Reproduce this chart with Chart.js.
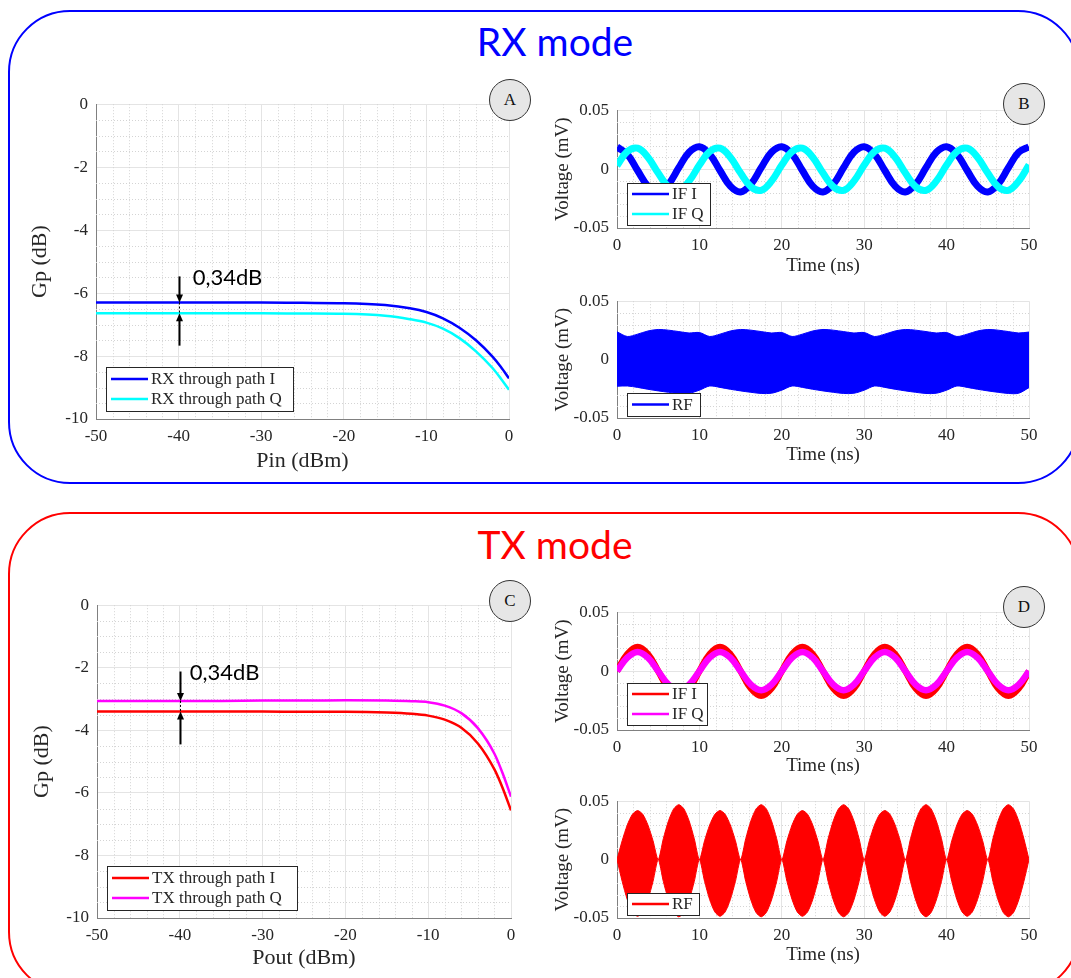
<!DOCTYPE html>
<html>
<head>
<meta charset="utf-8">
<script src="https://cdn.jsdelivr.net/npm/chart.js@4.4.1/dist/chart.umd.min.js"></script>
<style>
  html, body { margin: 0; padding: 0; background: #fff; width: 1071px; height: 978px; overflow: hidden; }
  .frame { position: absolute; box-sizing: border-box; border-radius: 62px; }
  #rxFrame { left: 8px; top: 10px; width: 1072px; height: 474px; border: 2.5px solid #0000ff; }
  #txFrame { left: 8px; top: 512px; width: 1072px; height: 482px; border: 2.5px solid #ff0000; }
  .mode { position: absolute; left: 555px; transform: translateX(-50%); font-family: Lato, sans-serif;
          font-size: 39px; line-height: 39px; white-space: nowrap; }
  canvas { position: absolute; }
  .tag { position: absolute; width: 40px; height: 40px; margin: -21px 0 0 -21px; border-radius: 50%;
         border: 1.5px solid #333; background: #e6e6e6; font-family: "Liberation Serif", serif;
         font-size: 17px; color: #111; display: flex; align-items: center; justify-content: center; z-index: 5; }
</style>
</head>
<body>
<div class="frame" id="rxFrame"></div>
<div class="frame" id="txFrame"></div>
<div class="mode" style="top:22px;color:#0000ff">RX mode</div>
<div class="mode" style="top:525px;color:#ff0000">TX mode</div>

<canvas id="chartA" width="530" height="394" style="left:16px;top:86px"></canvas>
<canvas id="chartB1" width="520" height="186" style="left:545px;top:92px"></canvas>
<canvas id="chartB2" width="520" height="185" style="left:545px;top:283px"></canvas>
<canvas id="chartC" width="532" height="392" style="left:16px;top:587px"></canvas>
<canvas id="chartD1" width="520" height="186" style="left:545px;top:594px"></canvas>
<canvas id="chartD2" width="520" height="185" style="left:545px;top:783px"></canvas>

<div class="tag" style="left:510px;top:100px">A</div>
<div class="tag" style="left:1024px;top:104px">B</div>
<div class="tag" style="left:510px;top:601px">C</div>
<div class="tag" style="left:1024px;top:607px">D</div>

<script>
// ---------- data ----------
const powerSweep = [-50, -45, -40, -35, -30, -25, -20, -15, -12, -10, -8, -6, -4, -2, -1, 0];
const rxGainI = [-6.30, -6.30, -6.30, -6.30, -6.30, -6.31, -6.32, -6.38, -6.48, -6.60, -6.80, -7.10, -7.50, -8.02, -8.34, -8.71];
const rxGainQ = [-6.64, -6.64, -6.64, -6.64, -6.64, -6.65, -6.66, -6.72, -6.83, -6.94, -7.13, -7.43, -7.85, -8.38, -8.71, -9.07];
const txGainI = [-3.40, -3.40, -3.40, -3.40, -3.40, -3.41, -3.41, -3.43, -3.47, -3.53, -3.66, -3.92, -4.42, -5.25, -5.85, -6.56];
const txGainQ = [-3.06, -3.06, -3.06, -3.06, -3.05, -3.05, -3.04, -3.05, -3.07, -3.10, -3.21, -3.45, -3.93, -4.75, -5.38, -6.12];

const timeCoarse = [0, 1.25, 2.5, 3.75, 5, 6.25, 7.5, 8.75, 10, 11.25, 12.5, 13.75, 15, 16.25, 17.5, 18.75,
  20, 21.25, 22.5, 23.75, 25, 26.25, 27.5, 28.75, 30, 31.25, 32.5, 33.75, 35, 36.25, 37.5, 38.75,
  40, 41.25, 42.5, 43.75, 45, 46.25, 47.5, 48.75, 50];
const timeFine = [0, 0.625, 1.25, 1.875, 2.5, 3.125, 3.75, 4.375, 5, 5.625, 6.25, 6.875, 7.5, 8.125, 8.75, 9.375,
  10, 10.625, 11.25, 11.875, 12.5, 13.125, 13.75, 14.375, 15, 15.625, 16.25, 16.875, 17.5, 18.125, 18.75, 19.375,
  20, 20.625, 21.25, 21.875, 22.5, 23.125, 23.75, 24.375, 25, 25.625, 26.25, 26.875, 27.5, 28.125, 28.75, 29.375,
  30, 30.625, 31.25, 31.875, 32.5, 33.125, 33.75, 34.375, 35, 35.625, 36.25, 36.875, 37.5, 38.125, 38.75, 39.375,
  40, 40.625, 41.25, 41.875, 42.5, 43.125, 43.75, 44.375, 45, 45.625, 46.25, 46.875, 47.5, 48.125, 48.75, 49.375,
  50];

const rxIfI = [0.0188, 0.0126, -0.0012, -0.0145, -0.0194, -0.0128, 0.0012, 0.0143,
  0.0190, 0.0126, -0.0012, -0.0145, -0.0194, -0.0128, 0.0012, 0.0143,
  0.0190, 0.0126, -0.0012, -0.0145, -0.0194, -0.0128, 0.0012, 0.0143,
  0.0190, 0.0126, -0.0012, -0.0145, -0.0194, -0.0128, 0.0012, 0.0143,
  0.0190, 0.0126, -0.0012, -0.0145, -0.0194, -0.0128, 0.0012, 0.0143,
  0.0188];
const rxIfQ = [0.0030, 0.0149, 0.0177, 0.0101, -0.0034, -0.0150, -0.0180, -0.0102,
  0.0034, 0.0149, 0.0177, 0.0101, -0.0034, -0.0150, -0.0180, -0.0102,
  0.0034, 0.0149, 0.0177, 0.0101, -0.0034, -0.0150, -0.0180, -0.0102,
  0.0034, 0.0149, 0.0177, 0.0101, -0.0034, -0.0150, -0.0180, -0.0102,
  0.0034, 0.0149, 0.0177, 0.0101, -0.0034, -0.0150, -0.0180, -0.0102,
  0.0036];
const rxRfUpper = [0.0238, 0.0198, 0.0218, 0.0245, 0.0258, 0.0252, 0.0240, 0.0228,
  0.0232, 0.0198, 0.0218, 0.0245, 0.0258, 0.0252, 0.0240, 0.0228,
  0.0232, 0.0198, 0.0218, 0.0245, 0.0258, 0.0252, 0.0240, 0.0228,
  0.0232, 0.0198, 0.0218, 0.0245, 0.0258, 0.0252, 0.0240, 0.0228,
  0.0232, 0.0198, 0.0218, 0.0245, 0.0258, 0.0252, 0.0240, 0.0228,
  0.0236];
const rxRfLower = [-0.0228, -0.0226, -0.0238, -0.0254, -0.0268, -0.0280, -0.0290, -0.0288,
  -0.0262, -0.0226, -0.0238, -0.0254, -0.0268, -0.0280, -0.0290, -0.0288,
  -0.0262, -0.0226, -0.0238, -0.0254, -0.0268, -0.0280, -0.0290, -0.0288,
  -0.0262, -0.0226, -0.0238, -0.0254, -0.0268, -0.0280, -0.0290, -0.0288,
  -0.0262, -0.0226, -0.0238, -0.0254, -0.0268, -0.0280, -0.0290, -0.0288,
  -0.0240];

const txIfI = [0, 0.0145, 0.0205, 0.0145, 0, -0.0148, -0.0210, -0.0148,
  0, 0.0145, 0.0205, 0.0145, 0, -0.0148, -0.0210, -0.0148,
  0, 0.0145, 0.0205, 0.0145, 0, -0.0148, -0.0210, -0.0148,
  0, 0.0145, 0.0205, 0.0145, 0, -0.0148, -0.0210, -0.0148,
  0, 0.0145, 0.0205, 0.0145, 0, -0.0148, -0.0210, -0.0148,
  0];
const txIfQ = [0, 0.0115, 0.0163, 0.0115, 0, -0.0115, -0.0163, -0.0115,
  0, 0.0115, 0.0163, 0.0115, 0, -0.0115, -0.0163, -0.0115,
  0, 0.0115, 0.0163, 0.0115, 0, -0.0115, -0.0163, -0.0115,
  0, 0.0115, 0.0163, 0.0115, 0, -0.0115, -0.0163, -0.0115,
  0, 0.0115, 0.0163, 0.0115, 0, -0.0115, -0.0163, -0.0115,
  0];
const txRfUpper = [0, 0.0161, 0.0297, 0.0388, 0.0420, 0.0388, 0.0297, 0.0161, 0, 0.0180, 0.0332, 0.0434, 0.0470, 0.0434, 0.0332, 0.0180,
  0, 0.0161, 0.0297, 0.0388, 0.0420, 0.0388, 0.0297, 0.0161, 0, 0.0180, 0.0332, 0.0434, 0.0470, 0.0434, 0.0332, 0.0180,
  0, 0.0161, 0.0297, 0.0388, 0.0420, 0.0388, 0.0297, 0.0161, 0, 0.0180, 0.0332, 0.0434, 0.0470, 0.0434, 0.0332, 0.0180,
  0, 0.0161, 0.0297, 0.0388, 0.0420, 0.0388, 0.0297, 0.0161, 0, 0.0180, 0.0332, 0.0434, 0.0470, 0.0434, 0.0332, 0.0180,
  0, 0.0161, 0.0297, 0.0388, 0.0420, 0.0388, 0.0297, 0.0161, 0, 0.0180, 0.0332, 0.0434, 0.0470, 0.0434, 0.0332, 0.0180,
  0];
const txRfLower = [0, -0.0186, -0.0343, -0.0448, -0.0485, -0.0448, -0.0343, -0.0186, 0, -0.0188, -0.0346, -0.0453, -0.0490, -0.0453, -0.0346, -0.0188,
  0, -0.0186, -0.0343, -0.0448, -0.0485, -0.0448, -0.0343, -0.0186, 0, -0.0188, -0.0346, -0.0453, -0.0490, -0.0453, -0.0346, -0.0188,
  0, -0.0186, -0.0343, -0.0448, -0.0485, -0.0448, -0.0343, -0.0186, 0, -0.0188, -0.0346, -0.0453, -0.0490, -0.0453, -0.0346, -0.0188,
  0, -0.0186, -0.0343, -0.0448, -0.0485, -0.0448, -0.0343, -0.0186, 0, -0.0188, -0.0346, -0.0453, -0.0490, -0.0453, -0.0346, -0.0188,
  0, -0.0186, -0.0343, -0.0448, -0.0485, -0.0448, -0.0343, -0.0186, 0, -0.0188, -0.0346, -0.0453, -0.0490, -0.0453, -0.0346, -0.0188,
  0];

// tick labels
const powerTicks = [-50, -40, -30, -20, -10, 0];
const gainTicks = [-10, -8, -6, -4, -2, 0];
const timeTicks = [0, 10, 20, 30, 40, 50];
const voltTicks = [-0.05, 0, 0.05];

// gap annotation (dB)
const gapLabel = '0,34dB';

const SERIF = '"Liberation Serif", "Times New Roman", serif';
const INK = '#262626';

// ---------- plugins ----------
// MATLAB-like dotted minor grid
const minorGrid = {
  id: 'minorGrid',
  beforeDatasetsDraw(chart, args, o) {
    if (!o.xStep) return;
    const { ctx, chartArea: a, scales: { x, y } } = chart;
    ctx.save();
    ctx.strokeStyle = '#d4d4d4';
    ctx.lineWidth = 1;
    ctx.setLineDash([1, 2]);
    const isMajor = (v, step) => Math.abs(v / step - Math.round(v / step)) < 1e-6;
    for (let v = x.min + o.xStep; v < x.max - 1e-9; v += o.xStep) {
      if (isMajor(v, o.xMajor)) continue;
      const px = Math.round(x.getPixelForValue(v)) + 0.5;
      ctx.beginPath(); ctx.moveTo(px, a.top); ctx.lineTo(px, a.bottom); ctx.stroke();
    }
    for (let v = y.min + o.yStep; v < y.max - 1e-9; v += o.yStep) {
      if (isMajor(v, o.yMajor)) continue;
      const py = Math.round(y.getPixelForValue(v)) + 0.5;
      ctx.beginPath(); ctx.moveTo(a.left, py); ctx.lineTo(a.right, py); ctx.stroke();
    }
    ctx.restore();
  }
};

// boxed legend inside the axes, lower left
const boxLegend = {
  id: 'boxLegend',
  afterDatasetsDraw(chart, args, o) {
    if (!o.w) return;
    const { ctx, chartArea: a } = chart;
    const items = chart.data.datasets.filter(d => d.label);
    const x = a.left + o.dx, y = a.bottom - o.dy - o.h;
    ctx.save();
    ctx.fillStyle = '#fff';
    ctx.fillRect(x, y, o.w, o.h);
    ctx.strokeStyle = INK;
    ctx.lineWidth = 1;
    ctx.strokeRect(Math.round(x) + 0.5, Math.round(y) + 0.5, o.w, o.h);
    ctx.font = '17px ' + SERIF;
    ctx.textBaseline = 'middle';
    items.forEach((d, i) => {
      const cy = y + o.h / 2 + (i - (items.length - 1) / 2) * 20;
      ctx.strokeStyle = d.borderColor;
      ctx.lineWidth = 2.5;
      ctx.beginPath(); ctx.moveTo(x + 5, cy); ctx.lineTo(x + 42, cy); ctx.stroke();
      ctx.fillStyle = INK;
      ctx.fillText(d.label, x + 45, cy + 1);
    });
    ctx.restore();
  }
};

// the two arrows and the gap text
const gapNote = {
  id: 'gapNote',
  afterDatasetsDraw(chart, args, o) {
    if (o.at === undefined) return;
    const { ctx, scales: { x, y } } = chart;
    const px = Math.round(x.getPixelForValue(o.at)) + 0.5;
    const yTop = y.getPixelForValue(o.from);
    const yHi = y.getPixelForValue(o.hi);
    const yLo = y.getPixelForValue(o.lo);
    const yBot = y.getPixelForValue(o.to);
    const head = (tipY, dir) => {
      ctx.beginPath();
      ctx.moveTo(px, tipY);
      ctx.lineTo(px - 3.5, tipY - dir * 8);
      ctx.lineTo(px + 3.5, tipY - dir * 8);
      ctx.closePath();
      ctx.fill();
    };
    ctx.save();
    ctx.strokeStyle = '#000';
    ctx.fillStyle = '#000';
    ctx.lineWidth = 2;
    ctx.beginPath(); ctx.moveTo(px, yTop); ctx.lineTo(px, yHi - 6); ctx.stroke();
    head(yHi, 1);
    ctx.beginPath(); ctx.moveTo(px, yBot); ctx.lineTo(px, yLo + 6); ctx.stroke();
    head(yLo, -1);
    ctx.lineWidth = 1;
    ctx.setLineDash([2, 2]);
    ctx.beginPath(); ctx.moveTo(px, yHi); ctx.lineTo(px, yLo); ctx.stroke();
    ctx.setLineDash([]);
    ctx.font = '22px Lato, sans-serif';
    ctx.textBaseline = 'middle';
    ctx.fillText(gapLabel, x.getPixelForValue(o.textX), y.getPixelForValue(o.textY));
    ctx.restore();
  }
};

Chart.register(minorGrid, boxLegend, gapNote);

// ---------- chart factory ----------
const points = (xs, ys) => xs.map((v, i) => ({ x: v, y: ys[i] }));

function axis(ticksArr, min, max, title, fit, titleSize, titlePad, horizontal) {
  return {
    type: 'linear',
    min: min, max: max,
    afterBuildTicks: s => { s.ticks = ticksArr.map(v => ({ value: v })); },
    afterFit: s => { if (horizontal) s.height = fit; else s.width = fit; },
    grid: { color: '#e4e4e4', lineWidth: 1, drawTicks: false },
    border: { display: true, color: '#808080', width: 1 },
    ticks: {
      padding: horizontal ? 7 : 8,
      color: INK,
      font: { family: SERIF, size: 17 },
      maxRotation: 0,
      callback: v => String(v)
    },
    title: {
      display: true, text: title, color: INK,
      font: { family: SERIF, size: titleSize },
      padding: horizontal ? { top: 0, bottom: titlePad } : { top: titlePad, bottom: 0 }
    }
  };
}

function makeChart(id, c) {
  return new Chart(document.getElementById(id), {
    type: 'line',
    data: { datasets: c.datasets },
    options: {
      responsive: false,
      animation: false,
      events: [],
      layout: { padding: { top: c.padTop, right: c.padRight, left: 0, bottom: 0 } },
      elements: { point: { radius: 0 } },
      plugins: {
        legend: { display: false },
        tooltip: { enabled: false },
        minorGrid: c.minor,
        boxLegend: c.legend,
        gapNote: c.note || {}
      },
      scales: { x: c.x, y: c.y }
    }
  });
}

function line(label, xs, ys, color, width, order, tension) {
  return {
    label: label, data: points(xs, ys), borderColor: color, backgroundColor: color,
    borderWidth: width, tension: tension === undefined ? 0.4 : tension, order: order, fill: false
  };
}

// smooth gain curves on the uneven power grid
function gainLine(label, ys, color, order) {
  return Object.assign(line(label, powerSweep, ys, color, 2.5, order), { cubicInterpolationMode: 'monotone' });
}

// ---------- A: RX gain ----------
makeChart('chartA', {
  padTop: 15, padRight: 37,
  datasets: [
    gainLine('RX through path I', rxGainI, '#0000ff', 0),
    gainLine('RX through path Q', rxGainQ, '#00ffff', 1)
  ],
  x: axis(powerTicks, -50, 0, 'Pin (dBm)', 61, 22, 6, true),
  y: axis(gainTicks, -10, 0, 'Gp (dB)', 80, 22, 11, false),
  minor: { xStep: 2, xMajor: 10, yStep: 0.5, yMajor: 2 },
  legend: { dx: 10, dy: 8, w: 187, h: 44 },
  note: { at: -40, from: -5.47, hi: -6.30, lo: -6.64, to: -7.67, textX: -38.3, textY: -5.52 }
});

// ---------- B: RX IF ----------
makeChart('chartB1', {
  padTop: 14, padRight: 36,
  datasets: [
    line('IF I', timeCoarse, rxIfI, '#0000ff', 7, 1),
    line('IF Q', timeCoarse, rxIfQ, '#00ffff', 7, 0)
  ],
  x: axis(timeTicks, 0, 50, 'Time (ns)', 50, 19, 1, true),
  y: axis(voltTicks, -0.05, 0.05, 'Voltage (mV)', 72, 19, 7, false),
  minor: { xStep: 2, xMajor: 10, yStep: 0.01, yMajor: 0.05 },
  legend: { dx: 10, dy: 3, w: 83, h: 42 }
});

// ---------- B: RX RF ----------
makeChart('chartB2', {
  padTop: 14, padRight: 36,
  datasets: [
    Object.assign(line('RF', timeCoarse, rxRfUpper, '#0000ff', 1, 0, 0.3), { fill: '+1' }),
    line('', timeCoarse, rxRfLower, '#0000ff', 1, 0, 0.3)
  ],
  x: axis(timeTicks, 0, 50, 'Time (ns)', 50, 19, 2, true),
  y: axis(voltTicks, -0.05, 0.05, 'Voltage (mV)', 72, 19, 7, false),
  minor: { xStep: 2, xMajor: 10, yStep: 0.01, yMajor: 0.05 },
  legend: { dx: 10, dy: 2, w: 73, h: 23 }
});

// ---------- C: TX gain ----------
makeChart('chartC', {
  padTop: 15, padRight: 37,
  datasets: [
    gainLine('TX through path I', txGainI, '#ff0000', 1),
    gainLine('TX through path Q', txGainQ, '#ff00ff', 0)
  ],
  x: axis(powerTicks, -50, 0, 'Pout (dBm)', 61, 22, 8, true),
  y: axis(gainTicks, -10, 0, 'Gp (dB)', 81, 22, 13, false),
  minor: { xStep: 2, xMajor: 10, yStep: 0.5, yMajor: 2 },
  legend: { dx: 10, dy: 8, w: 190, h: 44 },
  note: { at: -40, from: -2.12, hi: -3.06, lo: -3.40, to: -4.45, textX: -38.8, textY: -2.18 }
});

// ---------- D: TX IF ----------
makeChart('chartD1', {
  padTop: 14, padRight: 36,
  datasets: [
    line('IF I', timeCoarse, txIfI, '#ff0000', 6.5, 1),
    line('IF Q', timeCoarse, txIfQ, '#ff00ff', 6.5, 0)
  ],
  x: axis(timeTicks, 0, 50, 'Time (ns)', 50, 19, 3, true),
  y: axis(voltTicks, -0.05, 0.05, 'Voltage (mV)', 72, 19, 7, false),
  minor: { xStep: 2, xMajor: 10, yStep: 0.01, yMajor: 0.05 },
  legend: { dx: 10, dy: 5, w: 80, h: 42 }
});

// ---------- D: TX RF ----------
makeChart('chartD2', {
  padTop: 14, padRight: 36,
  datasets: [
    Object.assign(line('RF', timeFine, txRfUpper, '#ff0000', 1, 0, 0.25), { fill: '+1' }),
    line('', timeFine, txRfLower, '#ff0000', 1, 0, 0.25)
  ],
  x: axis(timeTicks, 0, 50, 'Time (ns)', 50, 19, 2, true),
  y: axis(voltTicks, -0.05, 0.05, 'Voltage (mV)', 72, 19, 7, false),
  minor: { xStep: 2, xMajor: 10, yStep: 0.01, yMajor: 0.05 },
  legend: { dx: 10, dy: 3, w: 72, h: 22 }
});
</script>
</body>
</html>
